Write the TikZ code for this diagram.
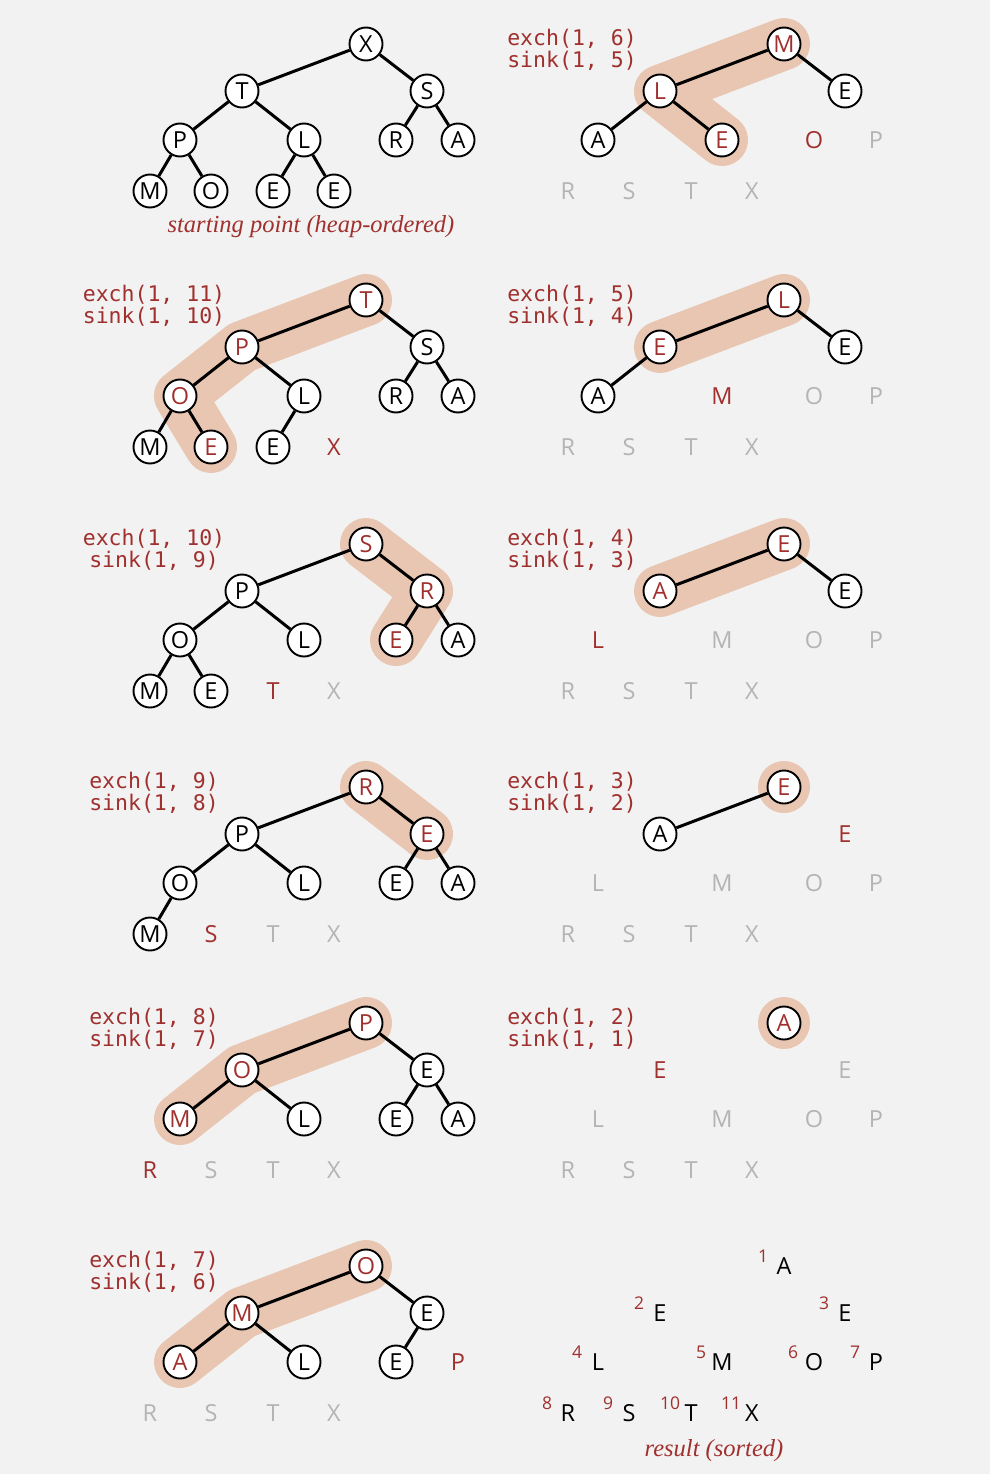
\documentclass[tikz,border=0pt]{standalone}
\usepackage{fontspec}
\setmainfont{Open Sans}
\newfontfamily\codefont{DejaVu Sans Mono}
\newfontfamily\capfont{Liberation Serif}
\usetikzlibrary{calc}
\definecolor{bgc}{HTML}{F2F2F2}
\definecolor{redb}{HTML}{A0302E}
\definecolor{hlc}{HTML}{E8C6B2}
\definecolor{grayt}{HTML}{B4B4B4}
\tikzset{
  letterfont/.style={font=\fontsize{23.5}{23.5}\selectfont},
  heapnode/.style={circle, draw=black, line width=1.9pt, fill=white, minimum size=33pt, inner sep=0pt, letterfont},
  blk/.style={heapnode, text=black},
  redc/.style={heapnode, text=redb},
  redt/.style={inner sep=0pt, text=redb, letterfont},
  grayl/.style={inner sep=0pt, text=grayt, letterfont},
  plainl/.style={inner sep=0pt, text=black, letterfont},
  supn/.style={inner sep=0pt, text=redb, font=\fontsize{17.5}{17.5}\selectfont},
  conn/.style={line width=3pt, draw=black},
  hl/.style={line width=52pt, draw=hlc, line cap=round, line join=round},
  codelbl/.style={align=center, text=redb, inner sep=0pt, font=\codefont\fontsize{21.5}{22}\selectfont},
  capt/.style={text=redb, inner sep=0pt, font=\capfont\itshape\fontsize{24.5}{26}\selectfont},
}
\newcommand\mkpos[3]{%
  \coordinate (#1-1) at (366+#2,#3);
  \coordinate (#1-2) at (242+#2,#3+47);
  \coordinate (#1-3) at (427+#2,#3+47);
  \coordinate (#1-4) at (180+#2,#3+96);
  \coordinate (#1-5) at (304+#2,#3+96);
  \coordinate (#1-6) at (396+#2,#3+96);
  \coordinate (#1-7) at (458+#2,#3+96);
  \coordinate (#1-8) at (150+#2,#3+147);
  \coordinate (#1-9) at (211+#2,#3+147);
  \coordinate (#1-10) at (273+#2,#3+147);
  \coordinate (#1-11) at (334+#2,#3+147);
  \coordinate (#1-lab) at (154+#2,#3+6);
}
\begin{document}
\begin{tikzpicture}[x=1pt,y=-1pt]
\fill[bgc] (0,0) rectangle (990,1474);
\useasboundingbox (0,0) rectangle (990,1474);
\mkpos{pa}{0}{44}
\mkpos{pb}{418}{44}
\mkpos{pc}{0}{300}
\mkpos{pd}{418}{300}
\mkpos{pe}{0}{544}
\mkpos{pf}{418}{544}
\mkpos{pg}{0}{787}
\mkpos{ph}{418}{787}
\mkpos{pi}{0}{1023}
\mkpos{pj}{418}{1023}
\mkpos{pk}{0}{1266}
\mkpos{pl}{418}{1266}

% highlights
\draw[hl] (pb-1) -- (pb-2) -- (pb-5);
\draw[hl] (pc-1) -- (pc-2) -- (pc-4) -- (pc-9);
\draw[hl] (pd-1) -- (pd-2);
\draw[hl] (pe-1) -- (pe-3) -- (pe-6);
\draw[hl] (pf-1) -- (pf-2);
\draw[hl] (pg-1) -- (pg-3);
\fill[hlc] (ph-1) circle[radius=26pt];
\draw[hl] (pi-1) -- (pi-2) -- (pi-4);
\fill[hlc] (pj-1) circle[radius=26pt];
\draw[hl] (pk-1) -- (pk-2) -- (pk-4);

% Panel a: starting point
\foreach \i/\t in {1/X,2/T,3/S,4/P,5/L,6/R,7/A,8/M,9/O,10/E,11/E} \node[blk] (a-\i) at (pa-\i) {\t};
\foreach \u/\v in {1/2,1/3,2/4,2/5,3/6,3/7,4/8,4/9,5/10,5/11} \draw[conn] (a-\u) -- (a-\v);
\node[capt] (a-cap) at (311,227) {starting point (heap-ordered)};

% Panel b
\node[codelbl] (b-lab) at (pb-lab) {exch(1, 6)\\sink(1, 5)};
\foreach \i/\t in {1/M,2/L,5/E} \node[redc] (b-\i) at (pb-\i) {\t};
\foreach \i/\t in {3/E,4/A} \node[blk] (b-\i) at (pb-\i) {\t};
\node[redt] (b-6) at (pb-6) {O};
\foreach \i/\t in {7/P,8/R,9/S,10/T,11/X} \node[grayl] (b-\i) at (pb-\i) {\t};
\foreach \u/\v in {1/2,1/3,2/4,2/5} \draw[conn] (b-\u) -- (b-\v);

% Panel c
\node[codelbl] (c-lab) at (pc-lab) {exch(1, 11)\\sink(1, 10)};
\foreach \i/\t in {1/T,2/P,4/O,9/E} \node[redc] (c-\i) at (pc-\i) {\t};
\foreach \i/\t in {3/S,5/L,6/R,7/A,8/M,10/E} \node[blk] (c-\i) at (pc-\i) {\t};
\node[redt] (c-11) at (pc-11) {X};
\foreach \u/\v in {1/2,1/3,2/4,2/5,3/6,3/7,4/8,4/9,5/10} \draw[conn] (c-\u) -- (c-\v);

% Panel d
\node[codelbl] (d-lab) at (pd-lab) {exch(1, 5)\\sink(1, 4)};
\foreach \i/\t in {1/L,2/E} \node[redc] (d-\i) at (pd-\i) {\t};
\foreach \i/\t in {3/E,4/A} \node[blk] (d-\i) at (pd-\i) {\t};
\node[redt] (d-5) at (pd-5) {M};
\foreach \i/\t in {6/O,7/P,8/R,9/S,10/T,11/X} \node[grayl] (d-\i) at (pd-\i) {\t};
\foreach \u/\v in {1/2,1/3,2/4} \draw[conn] (d-\u) -- (d-\v);

% Panel e
\node[codelbl] (e-lab) at (pe-lab) {exch(1, 10)\\sink(1, 9)};
\foreach \i/\t in {1/S,3/R,6/E} \node[redc] (e-\i) at (pe-\i) {\t};
\foreach \i/\t in {2/P,4/O,5/L,7/A,8/M,9/E} \node[blk] (e-\i) at (pe-\i) {\t};
\node[redt] (e-10) at (pe-10) {T};
\node[grayl] (e-11) at (pe-11) {X};
\foreach \u/\v in {1/2,1/3,2/4,2/5,3/6,3/7,4/8,4/9} \draw[conn] (e-\u) -- (e-\v);

% Panel f
\node[codelbl] (f-lab) at (pf-lab) {exch(1, 4)\\sink(1, 3)};
\foreach \i/\t in {1/E,2/A} \node[redc] (f-\i) at (pf-\i) {\t};
\node[blk] (f-3) at (pf-3) {E};
\node[redt] (f-4) at (pf-4) {L};
\foreach \i/\t in {5/M,6/O,7/P,8/R,9/S,10/T,11/X} \node[grayl] (f-\i) at (pf-\i) {\t};
\foreach \u/\v in {1/2,1/3} \draw[conn] (f-\u) -- (f-\v);

% Panel g
\node[codelbl] (g-lab) at (pg-lab) {exch(1, 9)\\sink(1, 8)};
\foreach \i/\t in {1/R,3/E} \node[redc] (g-\i) at (pg-\i) {\t};
\foreach \i/\t in {2/P,4/O,5/L,6/E,7/A,8/M} \node[blk] (g-\i) at (pg-\i) {\t};
\node[redt] (g-9) at (pg-9) {S};
\foreach \i/\t in {10/T,11/X} \node[grayl] (g-\i) at (pg-\i) {\t};
\foreach \u/\v in {1/2,1/3,2/4,2/5,3/6,3/7,4/8} \draw[conn] (g-\u) -- (g-\v);

% Panel h
\node[codelbl] (h-lab) at (ph-lab) {exch(1, 3)\\sink(1, 2)};
\node[redc] (h-1) at (ph-1) {E};
\node[blk] (h-2) at (ph-2) {A};
\node[redt] (h-3) at (ph-3) {E};
\foreach \i/\t in {4/L,5/M,6/O,7/P,8/R,9/S,10/T,11/X} \node[grayl] (h-\i) at (ph-\i) {\t};
\draw[conn] (h-1) -- (h-2);

% Panel i
\node[codelbl] (i-lab) at (pi-lab) {exch(1, 8)\\sink(1, 7)};
\foreach \i/\t in {1/P,2/O,4/M} \node[redc] (i-\i) at (pi-\i) {\t};
\foreach \i/\t in {3/E,5/L,6/E,7/A} \node[blk] (i-\i) at (pi-\i) {\t};
\node[redt] (i-8) at (pi-8) {R};
\foreach \i/\t in {9/S,10/T,11/X} \node[grayl] (i-\i) at (pi-\i) {\t};
\foreach \u/\v in {1/2,1/3,2/4,2/5,3/6,3/7} \draw[conn] (i-\u) -- (i-\v);

% Panel j
\node[codelbl] (j-lab) at (pj-lab) {exch(1, 2)\\sink(1, 1)};
\node[redc] (j-1) at (pj-1) {A};
\node[redt] (j-2) at (pj-2) {E};
\foreach \i/\t in {3/E,4/L,5/M,6/O,7/P,8/R,9/S,10/T,11/X} \node[grayl] (j-\i) at (pj-\i) {\t};

% Panel k
\node[codelbl] (k-lab) at (pk-lab) {exch(1, 7)\\sink(1, 6)};
\foreach \i/\t in {1/O,2/M,4/A} \node[redc] (k-\i) at (pk-\i) {\t};
\foreach \i/\t in {3/E,5/L,6/E} \node[blk] (k-\i) at (pk-\i) {\t};
\node[redt] (k-7) at (pk-7) {P};
\foreach \i/\t in {8/R,9/S,10/T,11/X} \node[grayl] (k-\i) at (pk-\i) {\t};
\foreach \u/\v in {1/2,1/3,2/4,2/5,3/6} \draw[conn] (k-\u) -- (k-\v);

% Panel l: result
\foreach \i/\t in {1/A,2/E,3/E,4/L,5/M,6/O,7/P,8/R,9/S,10/T,11/X} {
  \node[plainl] (l-\i) at (pl-\i) {\t};
  \node[supn] (l-s\i) at ($(pl-\i)+(-21,-10)$) {\i};
}
\node[capt] (l-cap) at (714,1451) {result (sorted)};
\end{tikzpicture}
\end{document}
